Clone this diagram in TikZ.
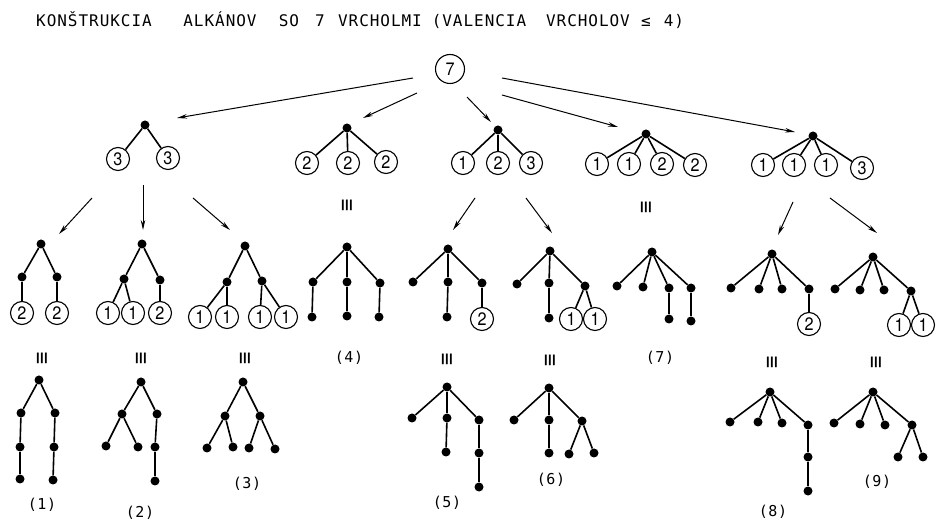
\documentclass[tikz,border=0pt]{standalone}
\usepackage{fontspec}
\usepackage{graphicx}
\usetikzlibrary{arrows.meta}
\newfontfamily\letterfont[LetterSpace=6]{DejaVu Sans Mono}
\newfontfamily\labelfont[LetterSpace=4]{DejaVu Sans Mono}
\newfontfamily\digitfont[FakeStretch=0.9]{TeX Gyre Heros}
\newfontfamily\symfont{DejaVu Sans}

\begin{document}
\begin{tikzpicture}[x=1pt,y=-1pt,
  dot/.style={circle,fill=black,inner sep=0pt,minimum size=9pt},
  num/.style={circle,draw,line width=1.1pt,inner sep=0pt,minimum size=23pt,
    font=\digitfont\fontsize{18}{18}\selectfont},
  edge/.style={line width=1.6pt},
  arr/.style={line width=1pt,-{Stealth[length=10pt,width=4.5pt]}},
  eqv/.style={rotate=90,inner sep=0pt,font=\symfont\fontsize{17}{17}\selectfont},
  lbl/.style={inner sep=0pt,font=\labelfont\fontsize{15}{15}\selectfont},
  ttl/.style={inner sep=0pt,anchor=base,font=\letterfont\fontsize{16}{16}\selectfont}]

\fill[white] (0,0) rectangle (938,521);
\useasboundingbox (0,0) rectangle (938,521);

% heading
\node[ttl] (w1) at (94,27) {KONŠTRUKCIA};
\node[ttl] (w2) at (220,27) {ALKÁNOV};
\node[ttl] (w3) at (289,27) {SO};
\node[ttl] (w4) at (320,27) {7};
\node[ttl] (w5) at (380,27) {VRCHOLMI};
\node[ttl] (w6) at (479,27) {(VALENCIA};
\node[ttl] (w7) at (588,27) {VRCHOLOV};
\node[ttl] (w8) at (646,27) {≤};
\node[ttl] (w9) at (674,27) {4)};

% root
\node[num,minimum size=29pt] (R) at (450,69) {7};

% first splits
\node[dot] (a1) at (145,125) {};
\node[num] (a1x) at (118,159) {3};
\node[num] (a1y) at (168,158) {3};

\node[dot] (a2) at (347,128) {};
\node[num] (a2x) at (307,163) {2};
\node[num] (a2y) at (348,163) {2};
\node[num] (a2z) at (386,162) {2};

\node[dot] (a3) at (498,130) {};
\node[num] (a3x) at (463,163) {1};
\node[num] (a3y) at (498,163) {2};
\node[num] (a3z) at (531,163) {3};

\node[dot] (a4) at (646,134) {};
\node[num] (a4w) at (597,164) {1};
\node[num] (a4x) at (629,164) {1};
\node[num] (a4y) at (662,164) {2};
\node[num] (a4z) at (695,165) {2};

\node[dot] (a5) at (813,136) {};
\node[num] (a5w) at (763,165) {1};
\node[num] (a5x) at (794,165) {1};
\node[num] (a5y) at (826,165) {1};
\node[num] (a5z) at (862,168) {3};

\foreach \u/\v in {a1/a1x,a1/a1y,a2/a2x,a2/a2y,a2/a2z,a3/a3x,a3/a3y,a3/a3z,
  a4/a4w,a4/a4x,a4/a4y,a4/a4z,a5/a5w,a5/a5x,a5/a5y,a5/a5z}
  \draw[edge] (\u) -- (\v);

\draw[arr] ([shift={(-37,9)}]R.center) -- ([shift={(32,-7)}]a1.center);
\draw[arr] ([shift={(-33,24)}]R.center) -- ([shift={(16,-10)}]a2.center);
\draw[arr] ([shift={(17,28)}]R.center) -- ([shift={(-7,-8)}]a3.center);
\draw[arr] ([shift={(52,26)}]R.center) -- ([shift={(-28,-7)}]a4.center);
\draw[arr] ([shift={(52,9)}]R.center) -- ([shift={(-18,-4)}]a5.center);

\node[eqv] (q2) at (348,205) {\scalebox{1}[1.3]{≡}};
\node[eqv] (q4) at (647,207) {\scalebox{1}[1.3]{≡}};

% second splits
\node[dot] (b1) at (41,244) {};
\node[dot] (b1l) at (22,277) {};
\node[dot] (b1r) at (57,277) {};
\node[num] (b1lc) at (22,313) {2};
\node[num] (b1rc) at (57,313) {2};

\node[dot] (b2) at (142,244) {};
\node[dot] (b2l) at (124,279) {};
\node[dot] (b2r) at (160,280) {};
\node[num] (b2la) at (108,313) {1};
\node[num] (b2lb) at (133,313) {1};
\node[num] (b2rc) at (160,313) {2};

\node[dot] (b3) at (245,246) {};
\node[dot] (b3l) at (227,282) {};
\node[dot] (b3r) at (262,281) {};
\node[num] (b3la) at (200,317) {1};
\node[num] (b3lb) at (227,317) {1};
\node[num] (b3ra) at (260,317) {1};
\node[num] (b3rb) at (286,317) {1};

\node[dot] (g4) at (347,247) {};
\node[dot] (g4a) at (313,282) {};
\node[dot] (g4b) at (347,282) {};
\node[dot] (g4c) at (380,283) {};
\node[dot] (g4d) at (312,317) {};
\node[dot] (g4e) at (347,316) {};
\node[dot] (g4f) at (379,317) {};

\node[dot] (c3) at (448,249) {};
\node[dot] (c3a) at (413,282) {};
\node[dot] (c3b) at (448,282) {};
\node[dot] (c3c) at (482,283) {};
\node[dot] (c3d) at (447,317) {};
\node[num] (c3e) at (482,319) {2};

\node[dot] (d3) at (550,251) {};
\node[dot] (d3a) at (517,284) {};
\node[dot] (d3b) at (549,283) {};
\node[dot] (d3c) at (585,286) {};
\node[dot] (d3d) at (549,318) {};
\node[num] (d3e) at (571,319) {1};
\node[num] (d3f) at (595,319) {1};

\node[dot] (g7) at (652,252) {};
\node[dot] (g7a) at (617,286) {};
\node[dot] (g7b) at (643,287) {};
\node[dot] (g7c) at (669,288) {};
\node[dot] (g7d) at (691,288) {};
\node[dot] (g7e) at (669,319) {};
\node[dot] (g7f) at (691,321) {};

\node[dot] (e5) at (772,254) {};
\node[dot] (e5a) at (731,288) {};
\node[dot] (e5b) at (759,289) {};
\node[dot] (e5c) at (782,289) {};
\node[dot] (e5d) at (809,289) {};
\node[num] (e5e) at (809,324) {2};

\node[dot] (f5) at (873,257) {};
\node[dot] (f5a) at (835,289) {};
\node[dot] (f5b) at (860,290) {};
\node[dot] (f5c) at (884,290) {};
\node[dot] (f5d) at (911,291) {};
\node[num] (f5e) at (899,325) {1};
\node[num] (f5f) at (923,325) {1};

\foreach \u/\v in {b1/b1l,b1/b1r,b1l/b1lc,b1r/b1rc,
  b2/b2l,b2/b2r,b2l/b2la,b2l/b2lb,b2r/b2rc,
  b3/b3l,b3/b3r,b3l/b3la,b3l/b3lb,b3r/b3ra,b3r/b3rb,
  g4/g4a,g4/g4b,g4/g4c,g4a/g4d,g4b/g4e,g4c/g4f,
  c3/c3a,c3/c3b,c3/c3c,c3b/c3d,c3c/c3e,
  d3/d3a,d3/d3b,d3/d3c,d3b/d3d,d3c/d3e,d3c/d3f,
  g7/g7a,g7/g7b,g7/g7c,g7/g7d,g7c/g7e,g7d/g7f,
  e5/e5a,e5/e5b,e5/e5c,e5/e5d,e5d/e5e,
  f5/f5a,f5/f5b,f5/f5c,f5/f5d,f5d/f5e,f5d/f5f}
  \draw[edge] (\u) -- (\v);

\draw[arr] ([shift={(-53,73)}]a1.center) -- ([shift={(18,-10)}]b1.center);
\draw[arr] ([shift={(-2,60)}]a1.center) -- ([shift={(1,-14)}]b2.center);
\draw[arr] ([shift={(48,73)}]a1.center) -- ([shift={(-15,-16)}]b3.center);
\draw[arr] ([shift={(-23,68)}]a3.center) -- ([shift={(5,-19)}]c3.center);
\draw[arr] ([shift={(28,68)}]a3.center) -- ([shift={(2,-18)}]d3.center);
\draw[arr] ([shift={(-20,66)}]a5.center) -- ([shift={(6,-19)}]e5.center);
\draw[arr] ([shift={(17,62)}]a5.center) -- ([shift={(4,-24)}]f5.center);

\node[eqv] (q11) at (43,358) {\scalebox{1}[1.3]{≡}};
\node[eqv] (q12) at (142,358) {\scalebox{1}[1.3]{≡}};
\node[eqv] (q13) at (246,358) {\scalebox{1}[1.3]{≡}};
\node[eqv] (q15) at (448,359) {\scalebox{1}[1.3]{≡}};
\node[eqv] (q16) at (551,360) {\scalebox{1}[1.3]{≡}};
\node[eqv] (q18) at (773,362) {\scalebox{1}[1.3]{≡}};
\node[eqv] (q19) at (877,362) {\scalebox{1}[1.3]{≡}};

\node[lbl] (n4) at (349,358) {(4)};
\node[lbl] (n7) at (660,358) {(7)};

% resulting alkanes
\node[dot] (h1) at (39,380) {};
\node[dot] (h1a) at (21,413) {};
\node[dot] (h1b) at (55,413) {};
\node[dot] (h1c) at (20,447) {};
\node[dot] (h1d) at (54,447) {};
\node[dot] (h1e) at (20,479) {};
\node[dot] (h1f) at (53,480) {};

\node[dot] (h2) at (141,382) {};
\node[dot] (h2a) at (122,414) {};
\node[dot] (h2b) at (157,414) {};
\node[dot] (h2c) at (106,446) {};
\node[dot] (h2d) at (138,447) {};
\node[dot] (h2e) at (155,447) {};
\node[dot] (h2f) at (155,481) {};

\node[dot] (h3) at (243,382) {};
\node[dot] (h3a) at (225,416) {};
\node[dot] (h3b) at (260,416) {};
\node[dot] (h3c) at (207,448) {};
\node[dot] (h3d) at (233,447) {};
\node[dot] (h3e) at (249,448) {};
\node[dot] (h3f) at (275,449) {};

\node[dot] (h5) at (447,387) {};
\node[dot] (h5a) at (412,418) {};
\node[dot] (h5b) at (447,418) {};
\node[dot] (h5c) at (479,420) {};
\node[dot] (h5d) at (446,452) {};
\node[dot] (h5e) at (479,453) {};
\node[dot] (h5f) at (479,487) {};

\node[dot] (h6) at (549,388) {};
\node[dot] (h6a) at (514,420) {};
\node[dot] (h6b) at (549,420) {};
\node[dot] (h6c) at (582,421) {};
\node[dot] (h6d) at (549,453) {};
\node[dot] (h6e) at (569,454) {};
\node[dot] (h6f) at (594,453) {};

\node[dot] (h8) at (770,392) {};
\node[dot] (h8a) at (730,422) {};
\node[dot] (h8b) at (758,422) {};
\node[dot] (h8c) at (782,423) {};
\node[dot] (h8d) at (808,425) {};
\node[dot] (h8e) at (808,457) {};
\node[dot] (h8f) at (808,491) {};

\node[dot] (h9) at (873,392) {};
\node[dot] (h9a) at (834,423) {};
\node[dot] (h9b) at (860,424) {};
\node[dot] (h9c) at (885,425) {};
\node[dot] (h9d) at (912,425) {};
\node[dot] (h9e) at (898,457) {};
\node[dot] (h9f) at (923,457) {};

\foreach \u/\v in {h1/h1a,h1/h1b,h1a/h1c,h1b/h1d,h1c/h1e,h1d/h1f,
  h2/h2a,h2/h2b,h2a/h2c,h2a/h2d,h2b/h2e,h2e/h2f,
  h3/h3a,h3/h3b,h3a/h3c,h3a/h3d,h3b/h3e,h3b/h3f,
  h5/h5a,h5/h5b,h5/h5c,h5b/h5d,h5c/h5e,h5e/h5f,
  h6/h6a,h6/h6b,h6/h6c,h6b/h6d,h6c/h6e,h6c/h6f,
  h8/h8a,h8/h8b,h8/h8c,h8/h8d,h8d/h8e,h8e/h8f,
  h9/h9a,h9/h9b,h9/h9c,h9/h9d,h9d/h9e,h9d/h9f}
  \draw[edge] (\u) -- (\v);

\node[lbl] (n1) at (42,505) {(1)};
\node[lbl] (n2) at (140,513) {(2)};
\node[lbl] (n3) at (247,484) {(3)};
\node[lbl] (n5) at (447,503) {(5)};
\node[lbl] (n6) at (551,480) {(6)};
\node[lbl] (n8) at (773,512) {(8)};
\node[lbl] (n9) at (877,482) {(9)};
\end{tikzpicture}
\end{document}
